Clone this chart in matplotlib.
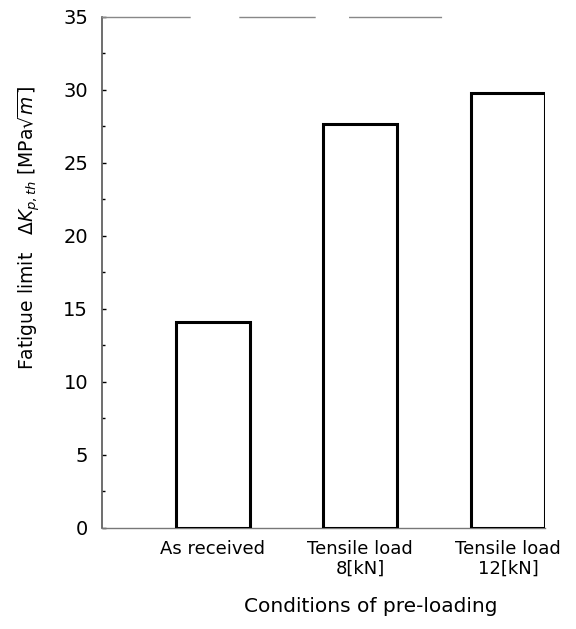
import matplotlib.pyplot as plt

conditions = ["As received", "Tensile load\n8[kN]", "Tensile load\n12[kN]"]
fatigue_limit = [14.1, 27.7, 29.8]

plt.rcParams['font.family'] = ['DejaVu Sans']

fig = plt.figure(figsize=(5.76, 6.29), dpi=100)
ax = fig.add_axes([0.177, 0.161, 0.769, 0.812])

x = list(range(len(conditions)))
ax.bar(x, fatigue_limit, width=0.5, color='white', edgecolor='black', linewidth=2.2, zorder=3)

ax.set_xlim(-0.75, 2.25)
ax.set_ylim(0, 35)
ax.set_yticks(range(0, 36, 5))
ax.set_yticks([2.5 + 5 * i for i in range(7)], minor=True)
ax.tick_params(axis='y', direction='in', length=3, width=1, labelsize=14, pad=10)
ax.tick_params(axis='y', which='minor', direction='in', length=2, width=1)
ax.set_xticks(x)
ax.set_xticklabels(conditions, fontsize=13, linespacing=1.1)
ax.tick_params(axis='x', length=0, pad=9)

ax.spines['right'].set_visible(False)
ax.spines['left'].set_color('#555555')
ax.spines['left'].set_linewidth(1.2)
ax.spines['bottom'].set_color('#777777')
ax.spines['bottom'].set_linewidth(1.0)
# broken top frame, as in the scanned original
ax.spines['top'].set_color('#888888')
ax.spines['top'].set_linewidth(1.0)
ax.spines['top'].set_linestyle((0, (63, 36, 54, 25, 66, 80)))

ax.set_ylabel(r"Fatigue limit   $\Delta K_{p,th}$ [MPa$\sqrt{m}$]", fontsize=13.5)
ax.yaxis.set_label_coords(-0.135, 0.588)
ax.set_xlabel("Conditions of pre-loading", fontsize=14.5)
ax.xaxis.set_label_coords(0.607, -0.135)

fig.savefig("out.png", dpi=100)
